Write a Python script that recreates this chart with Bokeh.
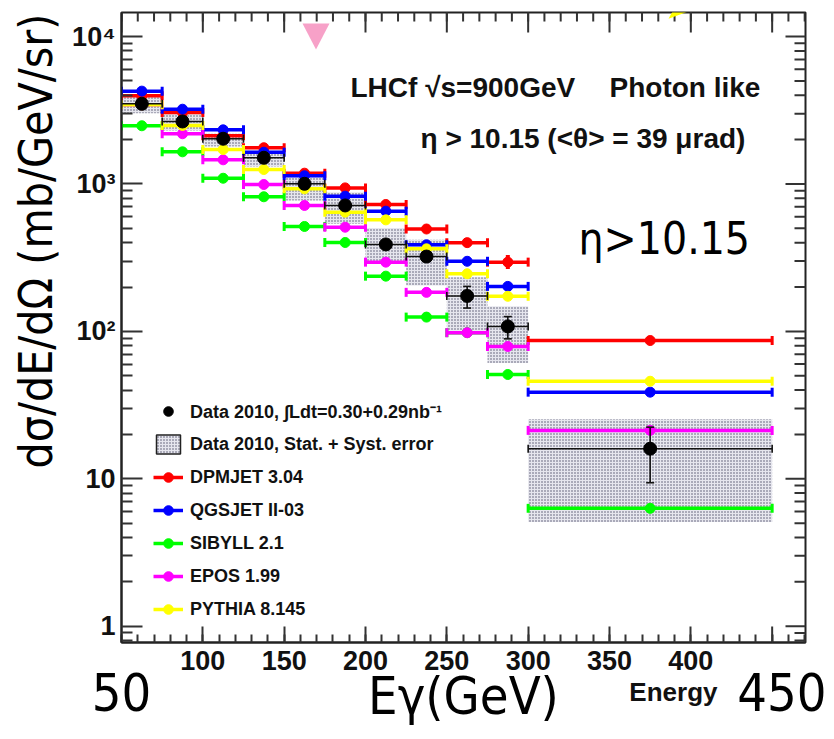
import numpy as np
from bokeh.plotting import figure
from bokeh.models import (Range1d, FixedTicker, LinearAxis, Label, Legend, LegendItem, Title,
                          ColumnDataSource, PolyAnnotation)
from bokeh.embed import file_html
from bokeh.resources import INLINE

# ---------------- data ----------------
bin_lo = [50, 75, 100, 125, 150, 175, 200, 225, 250, 275, 300]
bin_hi = [75, 100, 125, 150, 175, 200, 225, 250, 275, 300, 450]

data_val = [3500, 2655, 2027, 1506, 1003, 715, 389, 322, 174, 108, 16.0]
data_stat_lo = [3430, 2600, 1985, 1475, 980, 698, 378, 300, 144, 89, 9.4]
data_stat_hi = [3570, 2710, 2070, 1537, 1026, 732, 400, 345, 202, 126, 22.4]
data_sys_lo = [3020, 2306, 1796, 1315, 773, 537, 298, 205, 101, 61, 5.1]
data_sys_hi = [3880, 2995, 2192, 1687, 1173, 880, 502, 418, 233, 148, 25.3]

dpmjet = [3966, 3055, 2124, 1762, 1184, 941, 726, 495, 400, 295, 86.7]
dpmjet_err_lo = [3966, 3055, 2124, 1762, 1184, 941, 726, 495, 385, 265, 86.7]
dpmjet_err_hi = [3966, 3055, 2124, 1762, 1184, 941, 726, 495, 415, 330, 86.7]
qgsjet = [4266, 3216, 2330, 1643, 1137, 827, 654, 387, 299, 202, 38.7]
sibyll = [2483, 1653, 1094, 819, 515, 401, 237, 125, 98, 51, 6.3]
epos = [3445, 2192, 1459, 992, 715, 509, 295, 184, 98, 79, 21.3]
pythia = [3445, 2495, 1714, 1254, 927, 644, 571, 363, 246, 173, 45.9]

model_names = ["DPMJET 3.04", "QGSJET II-03", "SIBYLL 2.1", "EPOS 1.99", "PYTHIA 8.145"]
model_colors = ["#ff0000", "#0000ff", "#00ff00", "#ff00ff", "#ffff00"]
model_values = [dpmjet, qgsjet, sibyll, epos, pythia]

x_ticks = [50, 100, 150, 200, 250, 300, 350, 400, 450]
x_labelled = [100, 150, 200, 250, 300, 350, 400]
x_minor = list(range(50, 471, 10))
y_ticks = [1, 10, 100, 1000, 10000]
y_tick_labels = ["1", "10", "10\u00b2", "10\u00b3", "10\u2074"]
y_minor = [k * 10.0 ** e for e in range(-1, 5) for k in range(2, 10)]
big_ticks = [50, 456]
big_tick_labels = ["50", "450"]

centers = [(a + b) / 2 for a, b in zip(bin_lo, bin_hi)]

X0, X1 = 50, 470.5
Y0, Y1 = 0.775, 14570

# ---------------- figure ----------------
p = figure(width=834, height=739, output_backend="svg", toolbar_location=None,
           y_axis_type="log", x_range=Range1d(X0, X1), y_range=Range1d(Y0, Y1),
           min_border_left=121, min_border_right=29, min_border_top=12, min_border_bottom=97)
p.grid.visible = False
p.outline_line_color = "#222222"
p.outline_line_width = 2
p.background_fill_color = "white"
p.border_fill_color = "white"

FONT = "Liberation Sans"
BIG = "DejaVu Sans Condensed"
TICK = "#333333"


def style_axis(ax, major_in, minor_in):
    ax.axis_line_color = "#222222"
    ax.axis_line_width = 2
    ax.major_tick_in = major_in
    ax.major_tick_out = 0
    ax.minor_tick_in = minor_in
    ax.minor_tick_out = 0
    ax.major_tick_line_color = TICK
    ax.major_tick_line_width = 2
    ax.minor_tick_line_color = TICK
    ax.minor_tick_line_width = 2
    ax.major_label_text_font = FONT
    ax.major_label_text_font_style = "bold"
    ax.major_label_text_font_size = "27px"
    ax.major_label_text_color = "#111111"


xa = p.xaxis[0]
xa.ticker = FixedTicker(ticks=x_labelled, minor_ticks=x_minor)
style_axis(xa, 16, 8)
xa.major_label_standoff = 8

ya = p.yaxis[0]
ya.ticker = FixedTicker(ticks=y_ticks, minor_ticks=y_minor)
style_axis(ya, 21, 11)
ya.major_label_standoff = 6
ya.major_label_overrides = {v: t for v, t in zip(y_ticks, y_tick_labels)}

# ROOT x title, mostly hidden on the slide
energy = Title(text="Energy", align="right", offset=88, vertical_align="top",
               text_font=FONT, text_font_style="bold", text_font_size="26px",
               text_color="#111111", standoff=8)
p.add_layout(energy, "below")

# big slide labels "50", "450" and the slide x title, on a second bottom axis
ax2 = LinearAxis(ticker=FixedTicker(ticks=big_ticks, minor_ticks=[]),
                 major_label_overrides={v: t for v, t in zip(big_ticks, big_tick_labels)},
                 axis_line_color=None, major_tick_line_color=None, minor_tick_line_color=None,
                 major_tick_in=0, major_tick_out=0, minor_tick_in=0, minor_tick_out=0,
                 major_label_text_font=BIG, major_label_text_font_size="52px",
                 major_label_text_color="black", major_label_standoff=-40,
                 axis_label="E\u03b3(GeV)", axis_label_text_font=BIG, axis_label_text_font_size="52px",
                 axis_label_text_font_style="normal", axis_label_text_color="black",
                 axis_label_standoff=-48)
p.add_layout(ax2, "below")
p.below = [xa, energy, ax2]

# slide y title
ytitle = Title(text="d\u03c3/dE/d\u03a9 (mb/GeV/sr)", align="right", offset=1, vertical_align="middle",
               text_font=BIG, text_font_style="normal", text_font_size="46px",
               text_color="black", standoff=12)
p.add_layout(ytitle, "left")

# ticks on the top and right frame edges (and the unlabelled 450 tick at bottom),
# drawn as markers centred on the edge; the frame clips the outer half
p.scatter(x=x_ticks, y=[Y1] * len(x_ticks), marker="dash", angle=np.pi / 2, size=40,
          line_color=TICK, line_width=2)
p.scatter(x=x_minor, y=[Y1] * len(x_minor), marker="dash", angle=np.pi / 2, size=18,
          line_color=TICK, line_width=2)
p.scatter(x=[450], y=[Y0], marker="dash", angle=np.pi / 2, size=32, line_color=TICK, line_width=2)
p.scatter(x=[X1] * len(y_ticks), y=y_ticks, marker="dash", size=40, line_color=TICK, line_width=2)
p.scatter(x=[X1] * len(y_minor), y=y_minor, marker="dash", size=22, line_color=TICK, line_width=2)

# ---------------- data boxes ----------------
HATCH = dict(hatch_pattern="dot", hatch_color="#4e4e68", hatch_scale=3, hatch_weight=1.3)
box_src = ColumnDataSource(dict(l=bin_lo, r=bin_hi, b=data_sys_lo, t=data_sys_hi))
box = p.quad(left="l", right="r", bottom="b", top="t", source=box_src,
             fill_color="#e6e6ee", line_color=None, **HATCH)
box_leg = p.quad(left=[0], right=[0], bottom=[0], top=[0], fill_color="#e6e6ee", line_color="#222222",
                 line_width=1.5, **HATCH)

# ---------------- models ----------------
model_renderers = []
for name, color, vals in zip(model_names, model_colors, model_values):
    src = ColumnDataSource(dict(x0=bin_lo, x1=bin_hi, xc=centers, y=vals))
    seg = p.segment(x0="x0", y0="y", x1="x1", y1="y", source=src, line_color=color, line_width=3.5)
    p.scatter(x="x0", y="y", source=src, marker="dash", angle=np.pi / 2, size=9,
              line_color=color, line_width=3)
    p.scatter(x="x1", y="y", source=src, marker="dash", angle=np.pi / 2, size=9,
              line_color=color, line_width=3)
    if name.startswith("DPMJET"):
        esrc = ColumnDataSource(dict(x=centers, lo=dpmjet_err_lo, hi=dpmjet_err_hi))
        p.segment(x0="x", y0="lo", x1="x", y1="hi", source=esrc, line_color=color, line_width=4)
    dot = p.scatter(x="xc", y="y", source=src, marker="circle", size=10, fill_color=color, line_color=color)
    model_renderers.append((name, [seg, dot]))

# ---------------- data points ----------------
dsrc = ColumnDataSource(dict(x0=bin_lo, x1=bin_hi, xc=centers, y=data_val, lo=data_stat_lo, hi=data_stat_hi))
p.segment(x0="x0", y0="y", x1="x1", y1="y", source=dsrc, line_color="#111111", line_width=1.6)
p.scatter(x="x0", y="y", source=dsrc, marker="dash", angle=np.pi / 2, size=8, line_color="#111111", line_width=1.6)
p.scatter(x="x1", y="y", source=dsrc, marker="dash", angle=np.pi / 2, size=8, line_color="#111111", line_width=1.6)
p.segment(x0="xc", y0="lo", x1="xc", y1="hi", source=dsrc, line_color="#111111", line_width=1.6)
p.scatter(x="xc", y="lo", source=dsrc, marker="dash", size=8, line_color="#111111", line_width=1.6)
p.scatter(x="xc", y="hi", source=dsrc, marker="dash", size=8, line_color="#111111", line_width=1.6)
dpt = p.scatter(x="xc", y="y", source=dsrc, marker="circle", size=13, fill_color="black", line_color="black")

# ---------------- legend ----------------
items = [LegendItem(label="Data 2010, \u222bLdt=0.30+0.29nb\u207b\u00b9", renderers=[dpt]),
         LegendItem(label="Data 2010, Stat. + Syst. error", renderers=[box_leg])]
for name, rs in model_renderers:
    items.append(LegendItem(label=name, renderers=rs))
leg = Legend(items=items, location=(22, 11), margin=0, padding=10, spacing=9,
             glyph_width=30, glyph_height=24, label_height=24, label_standoff=7,
             label_text_font=FONT, label_text_font_style="bold", label_text_font_size="18px",
             label_text_color="#111111", background_fill_alpha=0, border_line_alpha=0)
p.add_layout(leg)

# ---------------- texts inside the frame ----------------
def lab(text, x, y, size, font=FONT, style="normal", align="left", baseline="alphabetic",
        angle=0.0, color="#111111"):
    p.add_layout(Label(x=x, y=y, x_units="canvas", y_units="canvas", text=text,
                       text_font=font, text_font_size=f"{size}px", text_font_style=style,
                       text_align=align, text_baseline=baseline, angle=angle, text_color=color))

lab("LHCf \u221as=900GeV", 350, 87, 28, style="bold")
lab("Photon like", 609, 87, 28, style="bold")
lab("\u03b7 > 10.15 (<\u03b8> = 39 \u03bcrad)", 420, 138, 28, style="bold")
lab("\u03b7>10.15", 578, 238, 44, font=BIG, color="black")

p.add_layout(PolyAnnotation(xs=[302, 329, 315.5], ys=[23, 23, 49], xs_units="canvas", ys_units="canvas",
                            fill_color="#f7a1c8", fill_alpha=1, line_color=None))
p.add_layout(PolyAnnotation(xs=[668, 678, 685, 695], ys=[18.3, 0, 0, 8.3], xs_units="canvas", ys_units="canvas",
                            fill_color="#ffff00", fill_alpha=1, line_color=None))

open("out.html", "w").write(file_html(p, INLINE))
